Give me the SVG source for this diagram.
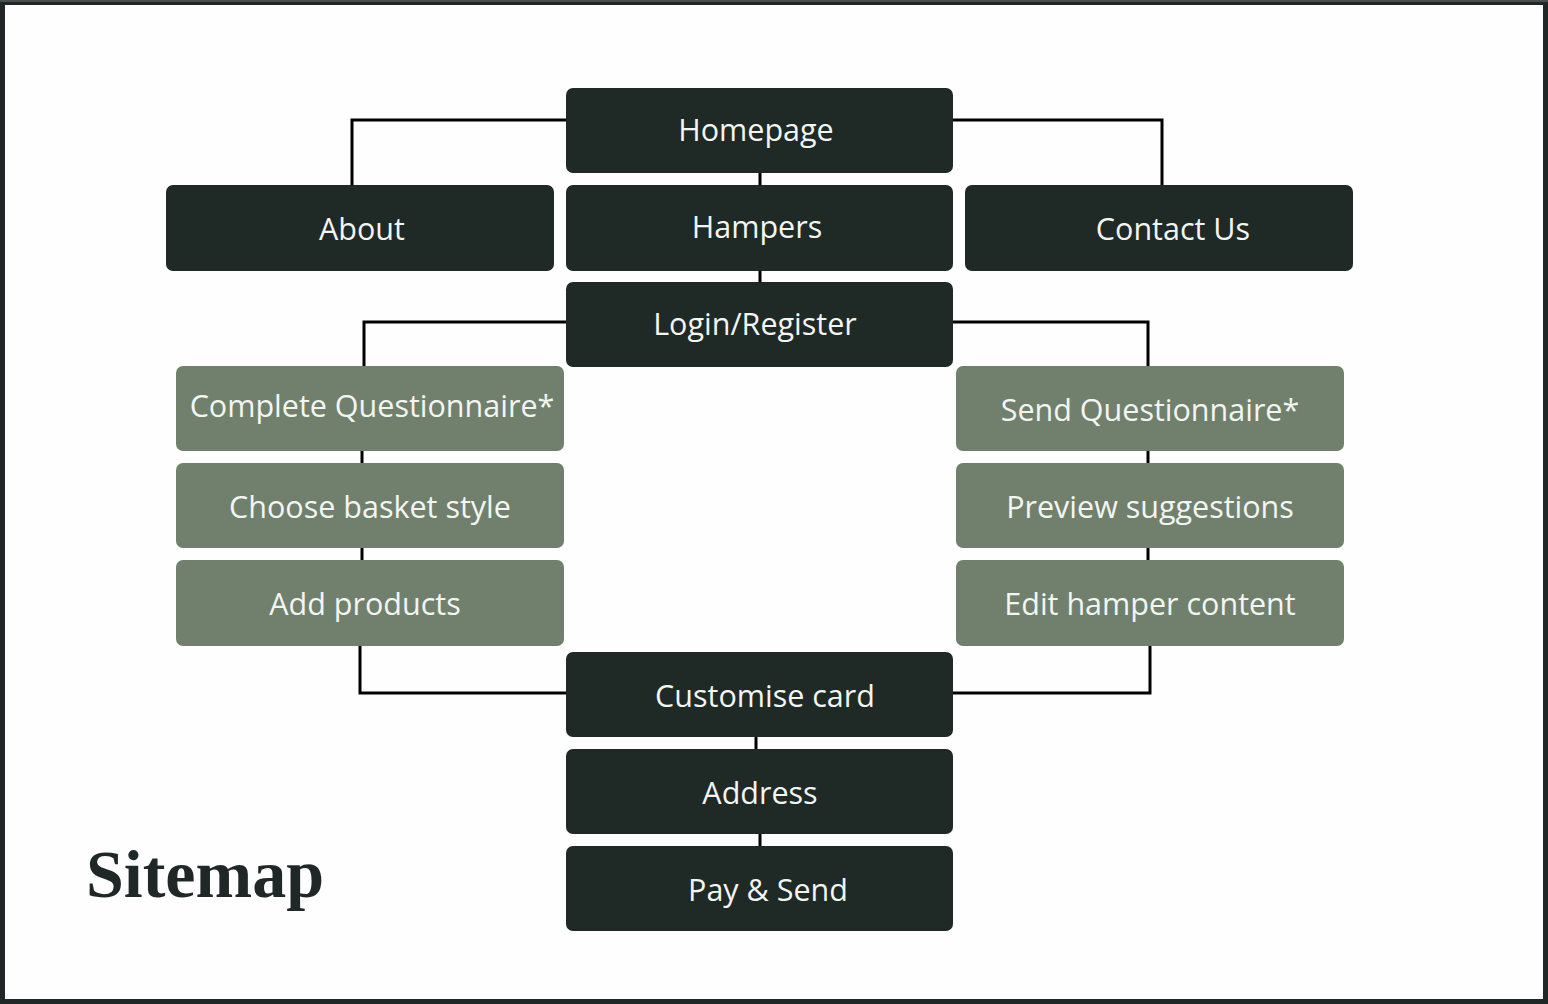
<svg xmlns="http://www.w3.org/2000/svg" width="1548" height="1004" viewBox="0 0 1548 1004">
<style>
.d{fill:#1f2926}
.g{fill:#71806d}
.t{font-family:"Open Sans","Noto Sans",sans-serif;font-size:30.5px;fill:#f3f5f3;text-anchor:middle}
.c{fill:none;stroke:#000;stroke-width:3}
</style>
<rect x="0" y="0" width="1548" height="1004" fill="#fefefe"/>
<rect x="2.5" y="2.5" width="1543" height="999" fill="none" stroke="#1f2826" stroke-width="5"/>
<rect x="0" y="0" width="1548" height="2" fill="#4a4f4d"/>
<g id="connectors">
<path class="c" d="M566,120 H352 V185"/>
<path class="c" d="M953,120 H1162 V185"/>
<path class="c" d="M760,173 V185"/>
<path class="c" d="M760,271 V282"/>
<path class="c" d="M566,322 H364 V366"/>
<path class="c" d="M953,322 H1148 V366"/>
<path class="c" d="M362,451 V463"/>
<path class="c" d="M362,548 V560"/>
<path class="c" d="M1148,451 V463"/>
<path class="c" d="M1148,548 V560"/>
<path class="c" d="M360,646 V693 H566"/>
<path class="c" d="M1150,646 V693 H953"/>
<path class="c" d="M756,737 V749"/>
<path class="c" d="M760,834 V846"/>
</g>
<g id="homepage"><rect class="d" x="566" y="88" width="387" height="85" rx="7"/><text class="t" x="756" y="141">Homepage</text></g>
<g id="about"><rect class="d" x="166" y="185" width="388" height="86" rx="7"/><text class="t" x="362" y="240">About</text></g>
<g id="hampers"><rect class="d" x="566" y="185" width="387" height="86" rx="7"/><text class="t" x="757" y="238">Hampers</text></g>
<g id="contact"><rect class="d" x="965" y="185" width="388" height="86" rx="7"/><text class="t" x="1173" y="240">Contact Us</text></g>
<g id="login"><rect class="d" x="566" y="282" width="387" height="85" rx="7"/><text class="t" x="755" y="335">Login/Register</text></g>
<g id="complete-questionnaire"><rect class="g" x="176" y="366" width="388" height="85" rx="7"/><text class="t" x="372" y="417">Complete Questionnaire*</text></g>
<g id="choose-basket"><rect class="g" x="176" y="463" width="388" height="85" rx="7"/><text class="t" x="370" y="518">Choose basket style</text></g>
<g id="add-products"><rect class="g" x="176" y="560" width="388" height="86" rx="7"/><text class="t" x="365" y="615">Add products</text></g>
<g id="send-questionnaire"><rect class="g" x="956" y="366" width="388" height="85" rx="7"/><text class="t" x="1150" y="421">Send Questionnaire*</text></g>
<g id="preview"><rect class="g" x="956" y="463" width="388" height="85" rx="7"/><text class="t" x="1150" y="518">Preview suggestions</text></g>
<g id="edit-hamper"><rect class="g" x="956" y="560" width="388" height="86" rx="7"/><text class="t" x="1150" y="615">Edit hamper content</text></g>
<g id="customise"><rect class="d" x="566" y="652" width="387" height="85" rx="7"/><text class="t" x="765" y="707">Customise card</text></g>
<g id="address"><rect class="d" x="566" y="749" width="387" height="85" rx="7"/><text class="t" x="760" y="804">Address</text></g>
<g id="pay"><rect class="d" x="566" y="846" width="387" height="85" rx="7"/><text class="t" x="768" y="901">Pay &amp; Send</text></g>
<text x="86" y="897" font-family="'Liberation Serif',serif" font-weight="bold" font-size="68" fill="#1f2826">Sitemap</text>
</svg>
